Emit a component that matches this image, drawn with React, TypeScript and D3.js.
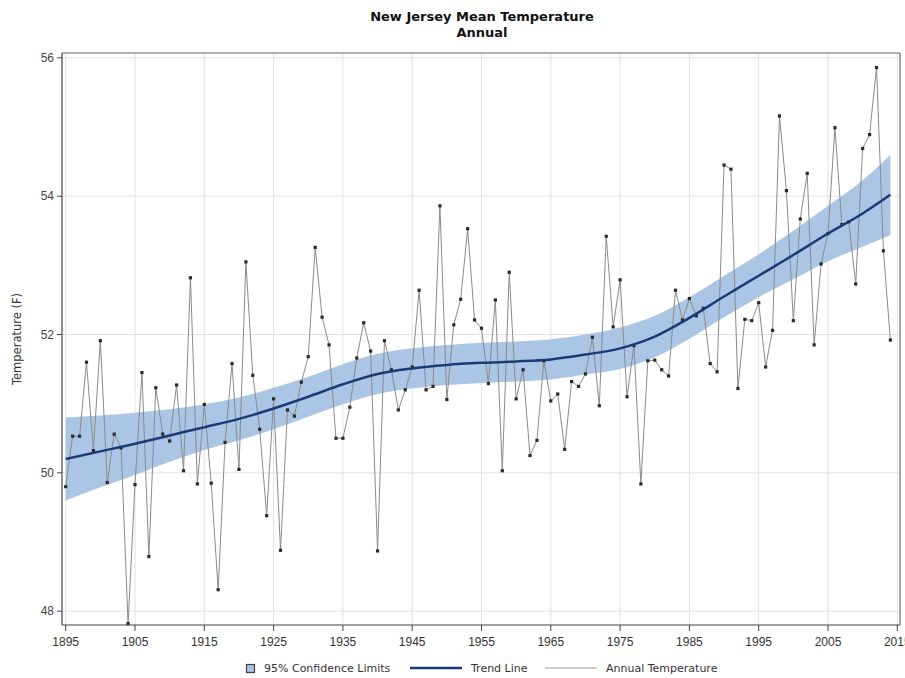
import React from "react";
import * as d3 from "d3";

const years: number[] = d3.range(1895, 2015);
const temps: number[] = [
  49.80, 50.53, 50.53, 51.60, 50.32, 51.91, 49.86, 50.56, 50.36, 47.82,
  49.83, 51.45, 48.79, 51.23, 50.56, 50.46, 51.27, 50.03, 52.82, 49.84,
  50.99, 49.85, 48.31, 50.44, 51.58, 50.05, 53.05, 51.41, 50.63, 49.38,
  51.07, 48.88, 50.91, 50.82, 51.31, 51.68, 53.26, 52.25, 51.85, 50.50,
  50.50, 50.95, 51.66, 52.17, 51.76, 48.87, 51.91, 51.49, 50.91, 51.20,
  51.53, 52.64, 51.20, 51.25, 53.86, 51.06, 52.14, 52.51, 53.53, 52.21,
  52.09, 51.29, 52.50, 50.03, 52.90, 51.07, 51.49, 50.25, 50.47, 51.62,
  51.04, 51.14, 50.34, 51.32, 51.25, 51.43, 51.96, 50.97, 53.42, 52.11,
  52.79, 51.10, 51.84, 49.84, 51.62, 51.63, 51.49, 51.40, 52.64, 52.21,
  52.52, 52.27, 52.38, 51.58, 51.46, 54.45, 54.39, 51.22, 52.22, 52.20,
  52.46, 51.53, 52.06, 55.16, 54.08, 52.20, 53.67, 54.33, 51.85, 53.02,
  53.46, 54.99, 53.59, 53.63, 52.73, 54.69, 54.89, 55.86, 53.21, 51.92,
];

const trendYears: number[] = [
  1895, 1900, 1905, 1910, 1915, 1920, 1925, 1930, 1935, 1940, 1945, 1950, 1955,
  1960, 1965, 1970, 1975, 1980, 1985, 1990, 1995, 2000, 2005, 2010, 2014,
];
const trend: number[] = [
  50.20, 50.31, 50.42, 50.54, 50.66, 50.78, 50.93, 51.10, 51.28, 51.43, 51.51, 51.56, 51.59,
  51.61, 51.64, 51.71, 51.80, 51.97, 52.24, 52.55, 52.85, 53.15, 53.46, 53.75, 54.02,
];
const lower: number[] = [
  49.60, 49.79, 49.97, 50.16, 50.33, 50.47, 50.63, 50.81, 50.99, 51.14, 51.22, 51.27, 51.30,
  51.32, 51.35, 51.42, 51.50, 51.67, 51.94, 52.25, 52.54, 52.80, 53.06, 53.27, 53.44,
];
const upper: number[] = [
  50.80, 50.83, 50.87, 50.92, 50.99, 51.09, 51.23, 51.39, 51.57, 51.72, 51.80, 51.85, 51.88,
  51.90, 51.93, 52.00, 52.10, 52.27, 52.54, 52.85, 53.16, 53.50, 53.86, 54.23, 54.60,
];

const xTicks: number[] = d3.range(1895, 2016, 10);
const yTicks: number[] = [48, 50, 52, 54, 56];

const title = "New Jersey Mean Temperature";
const subtitle = "Annual";
const yLabel = "Temperature (F)";
const legendLabels = ["95% Confidence Limits", "Trend Line", "Annual Temperature"];

const W = 905, H = 678;
const L = 62, R = 900, T = 53, B = 625;

export default function App() {
  const x = d3.scaleLinear().domain([1894.466, 2015.39]).range([L, R]);
  const y = d3.scaleLinear().domain([47.8, 56.07]).range([B, T]);

  const idx = d3.range(trendYears.length);
  const band = d3
    .area<number>()
    .x((i) => x(trendYears[i]))
    .y0((i) => y(lower[i]))
    .y1((i) => y(upper[i]))
    .curve(d3.curveMonotoneX)(idx) as string;
  const trendPath = d3
    .line<number>()
    .x((i) => x(trendYears[i]))
    .y((i) => y(trend[i]))
    .curve(d3.curveMonotoneX)(idx) as string;
  const dataPath = d3
    .line<number>()
    .x((i) => x(years[i]))
    .y((i) => y(temps[i]))(d3.range(years.length)) as string;

  const sans = "'DejaVu Sans', Verdana, sans-serif";
  const lib = "'Liberation Sans', Arial, sans-serif";

  return (
    <svg
      width={W}
      height={H}
      style={{ position: "absolute", left: 0, top: 0, background: "#fff" }}
    >
      <rect x={0} y={0} width={W} height={H} fill="#fff" />
      <text x={482} y={21} textAnchor="middle" fontFamily={sans} fontWeight="bold" fontSize={13} fill="#111">
        {title}
      </text>
      <text x={482} y={37} textAnchor="middle" fontFamily={sans} fontWeight="bold" fontSize={13} fill="#111">
        {subtitle}
      </text>

      {/* gridlines */}
      {xTicks.map((t) => (
        <line key={"gx" + t} x1={x(t)} x2={x(t)} y1={T} y2={B} stroke="#e2e2e2" strokeWidth={1} />
      ))}
      {yTicks.map((t) => (
        <line key={"gy" + t} x1={L} x2={R} y1={y(t)} y2={y(t)} stroke="#e2e2e2" strokeWidth={1} />
      ))}

      <path d={band} fill="#abc6e4" stroke="none" />
      <path d={dataPath} fill="none" stroke="#8a8a8a" strokeWidth={1} />
      {temps.map((v, i) => (
        <rect key={"p" + i} x={x(years[i]) - 1.6} y={y(v) - 1.6} width={3.2} height={3.2} fill="#2a2a2a" />
      ))}
      <path d={trendPath} fill="none" stroke="#1d3a78" strokeWidth={2.5} />

      {/* frame */}
      <line x1={L} x2={R} y1={T} y2={T} stroke="#999" strokeWidth={1.5} />
      <line x1={R} x2={R} y1={T} y2={B} stroke="#666" strokeWidth={1.2} />
      <line x1={L} x2={L} y1={T} y2={B} stroke="#444" strokeWidth={1.2} />
      <line x1={L} x2={R} y1={B} y2={B} stroke="#444" strokeWidth={1.2} />

      {/* y axis */}
      {yTicks.map((t) => (
        <g key={"yt" + t}>
          <line x1={L - 5} x2={L} y1={y(t)} y2={y(t)} stroke="#444" />
          <text x={L - 8} y={y(t) + 4} textAnchor="end" fontFamily={lib} fontSize={12} fill="#444">
            {t}
          </text>
        </g>
      ))}
      <text
        transform={`translate(21, ${(T + B) / 2}) rotate(-90)`}
        textAnchor="middle"
        fontFamily={sans}
        fontSize={11.5}
        fill="#333"
      >
        {yLabel}
      </text>

      {/* x axis */}
      {xTicks.map((t) => (
        <g key={"xt" + t}>
          <line x1={x(t)} x2={x(t)} y1={B} y2={B + 6} stroke="#444" />
          <text x={x(t)} y={646} textAnchor="middle" fontFamily={lib} fontSize={12} fill="#333">
            {t}
          </text>
        </g>
      ))}

      {/* legend */}
      <rect x={246.5} y={664.5} width={8} height={8} fill="#abc6e4" stroke="#444" strokeWidth={1.2} />
      <text x={264} y={672} fontFamily={sans} fontSize={11} fill="#333">
        {legendLabels[0]}
      </text>
      <line x1={410} x2={462} y1={668} y2={668} stroke="#1d3a78" strokeWidth={2.5} />
      <text x={471} y={672} fontFamily={sans} fontSize={11} fill="#333">
        {legendLabels[1]}
      </text>
      <line x1={545} x2={597} y1={668} y2={668} stroke="#bbb" strokeWidth={1.5} />
      <text x={606} y={672} fontFamily={sans} fontSize={11} fill="#333">
        {legendLabels[2]}
      </text>
    </svg>
  );
}
